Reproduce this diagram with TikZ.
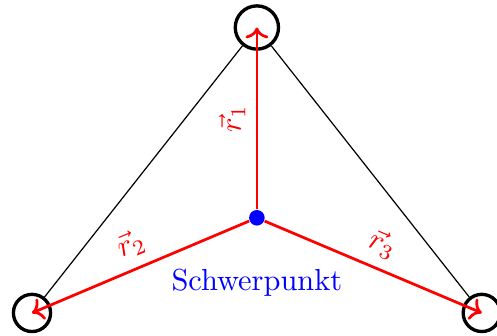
\documentclass[tikz,border=0pt]{standalone}
\usepackage{amsmath,amssymb}
\usetikzlibrary{arrows.meta,positioning}
\begin{document}
\begin{tikzpicture}[>=To,
  mass/.style={draw, circle, line width=1.1pt, minimum size=4.3mm, inner sep=0pt},
  rvec/.style={->, red, line width=0.9pt},
  sp/.style={circle, fill=blue, minimum size=1.8mm, inner sep=0pt}]
\useasboundingbox (-2.97,-0.266) rectangle (2.776,3.618);
\node[mass, minimum size=5mm] (m1) at (0,3.3) {};
\node[mass] (m2) at (-2.6,0) {};
\node[mass] (m3) at (2.6,0) {};
\node[sp] (s) at (0,1.1) {};
\node[blue, below=3.7mm of s] (lbl) {Schwerpunkt};
\draw (m1) -- (m2);
\draw (m1) -- (m3);
\draw[rvec] (s) -- (m1.center) node[midway, above, sloped] {$\vec{r}_1$};
\draw[rvec] (s) -- (m2.center) node[midway, above, sloped] {$\vec{r}_2$};
\draw[rvec] (s) -- (m3.center) node[midway, above, sloped] {$\vec{r}_3$};
\end{tikzpicture}
\end{document}
